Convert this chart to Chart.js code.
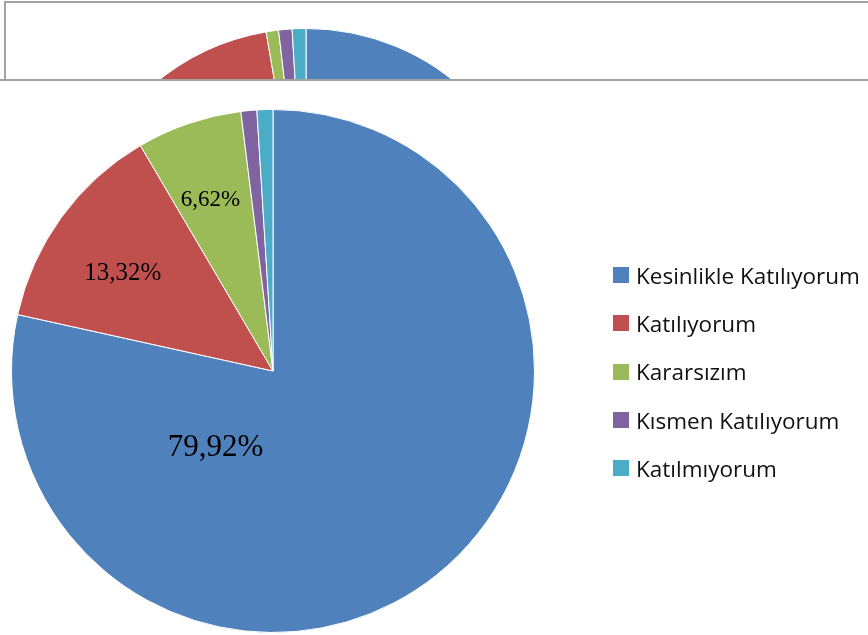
<!DOCTYPE html>
<html>
<head>
<meta charset="utf-8">
<script src="https://cdn.jsdelivr.net/npm/chart.js@4.4.0/dist/chart.umd.min.js"></script>
<style>
  html, body { margin: 0; padding: 0; background: #fff; }
  #page { position: relative; width: 868px; height: 635px; overflow: hidden; }
  #mainWrap { position: absolute; left: 0; top: 0; width: 868px; height: 635px; }
  #topBox {
    position: absolute; left: 4px; top: 1px; width: 880px; height: 77px;
    border-top: 2px solid #a3a3a3; border-left: 2px solid #a3a3a3;
    overflow: hidden; background: #fff;
  }
  #topWrap { position: absolute; left: -6px; top: -3px; width: 868px; height: 540px; }
  #bottomLine { position: absolute; left: 0; top: 79px; width: 868px; height: 2px; background: #a3a3a3; }
  #legend { position: absolute; left: 613px; top: 251px; font-family: "Open Sans", sans-serif; font-size: 22.5px; color: #111; }
  .item { height: 48.3px; display: flex; align-items: center; white-space: nowrap; }
  .swatch { width: 16px; height: 16px; margin-right: 7px; flex: none; }
</style>
</head>
<body>
<div id="page">
  <div id="mainWrap"><canvas id="mainChart"></canvas></div>
  <div id="topBox"><div id="topWrap"><canvas id="topChart"></canvas></div></div>
  <div id="bottomLine"></div>
  <div id="legend"></div>
</div>
<script>
// data
const categories = ['Kesinlikle Katılıyorum', 'Katılıyorum', 'Kararsızım', 'Kısmen Katılıyorum', 'Katılmıyorum'];
const values = [79.92, 13.32, 6.62, 1.0, 1.0];
const showLabel = [true, true, true, false, false];
// the chart clipped by the box above (only its top is visible)
const topValues = [80.3, 17.0, 0.85, 0.92, 0.94];
const colors = ['#4F81BD', '#C0504D', '#9BBB59', '#8064A2', '#4BACC6'];

// label placement: [angle from top in degrees, fraction of radius, font px]
const labelPlace = [[216.8, 0.367, 31], [302.9, 0.684, 25], [340.0, 0.698, 23]];

const fmt = v => v.toFixed(2).replace('.', ',') + '%';

const sliceLabels = {
  id: 'sliceLabels',
  afterDatasetsDraw(chart) {
    const { ctx } = chart;
    const arcs = chart.getDatasetMeta(0).data;
    ctx.save();
    ctx.fillStyle = '#000';
    ctx.textAlign = 'center';
    ctx.textBaseline = 'middle';
    arcs.forEach((arc, i) => {
      if (!showLabel[i]) return;
      const { x, y, outerRadius } = arc.getProps(['x', 'y', 'outerRadius'], true);
      const [deg, frac, size] = labelPlace[i];
      const a = (deg * Math.PI / 180) - Math.PI / 2;
      ctx.font = size + 'px "Liberation Serif", "DejaVu Serif", serif';
      ctx.fillText(fmt(values[i]), x + Math.cos(a) * outerRadius * frac, y + Math.sin(a) * outerRadius * frac);
    });
    ctx.restore();
  }
};

function makePie(id, data, padding, plugins) {
  return new Chart(document.getElementById(id), {
    type: 'pie',
    data: {
      labels: categories,
      datasets: [{
        data,
        backgroundColor: colors,
        borderColor: '#ffffff',
        borderWidth: 1,
        hoverOffset: 0,
      }],
    },
    options: {
      responsive: true,
      maintainAspectRatio: false,
      animation: false,
      layout: { padding },
      plugins: {
        legend: { display: false },
        tooltip: { enabled: false },
      },
    },
    plugins,
  });
}

// main pie: centre (273, 371), radius 262
makePie('mainChart', values, { left: 11, right: 333, top: 109, bottom: 2 }, [sliceLabels]);
// clipped pie in the top box: centre (306, 264), radius 236 in page coords
makePie('topChart', topValues, { left: 70, right: 326, top: 28, bottom: 40 }, []);

// legend
const legend = document.getElementById('legend');
categories.forEach((c, i) => {
  const row = document.createElement('div');
  row.className = 'item';
  const sw = document.createElement('span');
  sw.className = 'swatch';
  sw.style.background = colors[i];
  const tx = document.createElement('span');
  tx.textContent = c;
  row.appendChild(sw);
  row.appendChild(tx);
  legend.appendChild(row);
});
</script>
</body>
</html>
